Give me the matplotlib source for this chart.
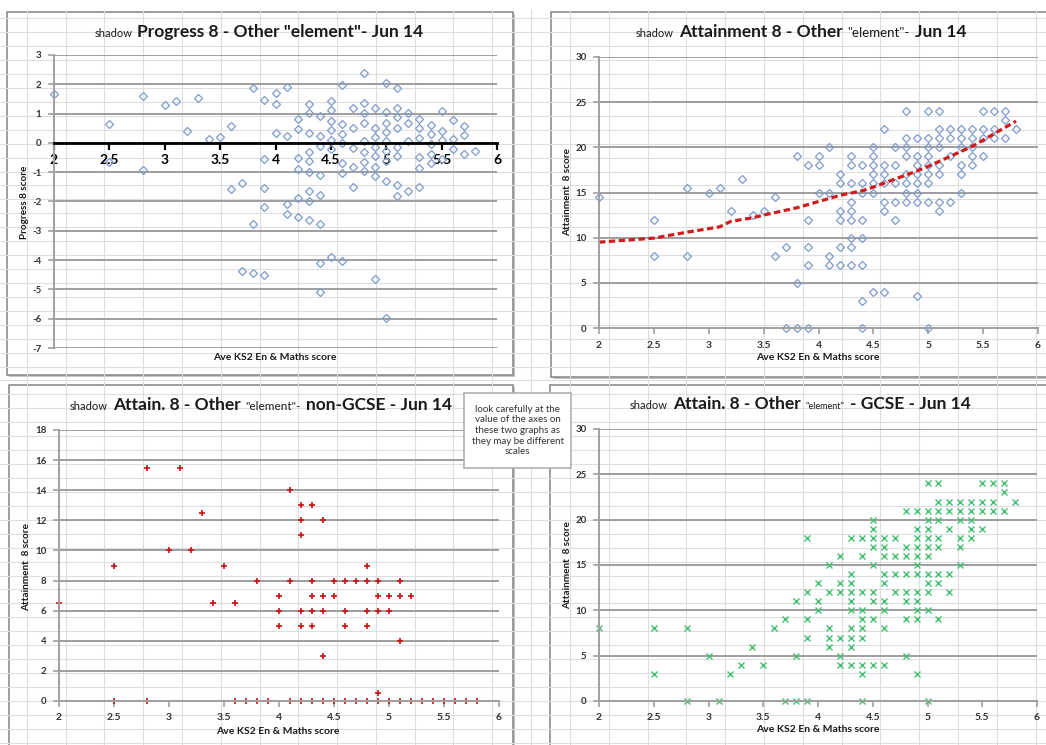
import numpy as np
import matplotlib
matplotlib.use('Agg')
import matplotlib.pyplot as plt
from matplotlib.patches import Rectangle

plt.rcParams['font.family'] = ['Lato', 'DejaVu Sans']

# ---- data: (KS2 score, [scores at that KS2 value]) ----
progress8 = [
    (2.0, [1.67]), (2.5, [0.66, -0.66]), (2.8, [1.59, -0.91]), (3.0, [1.31]),
    (3.1, [1.42]), (3.2, [0.42]), (3.3, [1.52]), (3.4, [0.14]), (3.5, [0.2]),
    (3.6, [0.59, -1.59]), (3.7, [-1.36, -4.38]), (3.8, [1.88, -2.76, -4.45]),
    (3.9, [1.45, -0.55, -1.55, -2.19, -4.52]), (4.0, [1.7, 1.34, 0.34]),
    (4.1, [1.91, 0.22, -2.08, -2.41]), (4.2, [0.8, 0.47, -0.53, -0.89, -1.89, -2.52]),
    (4.3, [1.33, 1.01, 0.34, -0.31, -0.63, -0.99, -1.63, -1.99, -2.63]),
    (4.4, [0.91, 0.23, -0.1, -1.1, -1.77, -2.76, -4.09, -5.09]),
    (4.5, [1.44, 1.12, 0.76, 0.44, 0.11, -0.21, -3.89]),
    (4.6, [1.98, 0.65, 0.3, -0.02, -0.7, -1.04, -4.02]),
    (4.7, [1.19, 0.51, -0.17, -0.81, -1.49]),
    (4.8, [2.37, 1.37, 1.01, 0.69, 0.05, -0.31, -0.64, -0.95]),
    (4.9, [1.19, 0.51, 0.19, -0.13, -0.45, -0.81, -1.13, -4.64]),
    (5.0, [2.06, 1.04, 0.69, 0.37, 0.05, -0.29, -0.63, -1.31, -5.97]),
    (5.1, [1.87, 1.19, 0.87, 0.51, -0.13, -0.46, -1.45, -1.82]),
    (5.2, [1.01, 0.69, 0.05, -1.63]), (5.3, [0.83, 0.51, 0.16, -0.49, -0.85, -1.49]),
    (5.4, [0.61, 0.29, -0.03, -0.37, -0.69]), (5.5, [1.08, 0.41, 0.09, -0.55]),
    (5.6, [0.79, 0.12, -0.2]), (5.7, [0.58, 0.26, -0.37]), (5.8, [-0.27]),
]

attain8 = [
    (2.0, [14.5]), (2.5, [12, 8]), (2.8, [15.5, 8]), (3.0, [15]), (3.1, [15.5]),
    (3.2, [13]), (3.3, [16.5]), (3.4, [12.5]), (3.5, [13]), (3.6, [14.5, 8]),
    (3.7, [9, 0]), (3.8, [19, 5, 0]), (3.9, [18, 12, 9, 7, 0]), (4.0, [19, 18, 15]),
    (4.1, [20, 15, 8, 7]), (4.2, [17, 16, 13, 12, 9, 7]),
    (4.3, [19, 18, 16, 14, 13, 12, 10, 9, 7]), (4.4, [18, 16, 15, 12, 10, 7, 3, 0]),
    (4.5, [20, 19, 18, 17, 16, 15, 4]), (4.6, [22, 18, 17, 16, 14, 13, 4]),
    (4.7, [20, 18, 16, 14, 12]), (4.8, [24, 21, 20, 19, 17, 16, 15, 14]),
    (4.9, [21, 19, 18, 17, 16, 15, 14, 3.5]), (5.0, [24, 21, 20, 19, 18, 17, 16, 14, 0]),
    (5.1, [24, 22, 21, 20, 18, 17, 14, 13]), (5.2, [22, 21, 19, 14]),
    (5.3, [22, 21, 20, 18, 17, 15]), (5.4, [22, 21, 20, 19, 18]),
    (5.5, [24, 22, 21, 19]), (5.6, [24, 22, 21]), (5.7, [24, 23, 21]), (5.8, [22]),
]

# red dashed trend line on the attainment chart
trend_x = [2.0, 2.5, 2.8, 3.0, 3.1, 3.2, 3.4, 3.5, 3.8, 4.0, 4.2, 4.4, 4.5, 4.7, 4.9, 5.0, 5.2, 5.4, 5.5, 5.6, 5.8]
trend_y = [9.5, 9.95, 10.6, 11.0, 11.2, 11.8, 12.2, 12.5, 13.3, 14.0, 14.7, 15.2, 15.6, 16.5, 17.4, 17.9, 19.0, 20.1, 20.8, 21.5, 22.9]

non_gcse = [
    (2.0, [6.5]), (2.5, [9, 0]), (2.8, [15.5, 0]), (3.0, [10]), (3.1, [15.5]),
    (3.2, [10]), (3.3, [12.5]), (3.4, [6.5]), (3.5, [9]), (3.6, [6.5, 0]),
    (3.7, [0]), (3.8, [8, 0]), (3.9, [0]), (4.0, [7, 6, 5]), (4.1, [14, 8, 0]),
    (4.2, [13, 12, 11, 6, 5, 0]), (4.3, [13, 8, 7, 6, 5, 0]), (4.4, [12, 7, 6, 3, 0]),
    (4.5, [8, 7, 0]), (4.6, [8, 6, 5, 0]), (4.7, [8, 0]), (4.8, [9, 8, 6, 5, 0]),
    (4.9, [8, 7, 6, 0.5, 0]), (5.0, [7, 6, 0]), (5.1, [8, 7, 4, 0]), (5.2, [7, 0]),
    (5.3, [0]), (5.4, [0]), (5.5, [0]), (5.6, [0]), (5.7, [0]), (5.8, [0]),
]

gcse = [
    (2.0, [8]), (2.5, [8, 3]), (2.8, [8, 0]), (3.0, [5]), (3.1, [0]), (3.2, [3]),
    (3.3, [4]), (3.4, [6]), (3.5, [4]), (3.6, [8]), (3.7, [9, 0]), (3.8, [11, 5, 0]),
    (3.9, [18, 12, 9, 7, 0]), (4.0, [13, 11, 10]), (4.1, [15, 12, 8, 7, 6]),
    (4.2, [16, 13, 12, 7, 5, 4]), (4.3, [18, 14, 13, 12, 11, 10, 8, 7, 6, 4]),
    (4.4, [18, 16, 12, 10, 9, 8, 7, 4, 3, 0]), (4.5, [20, 19, 18, 17, 15, 12, 11, 9, 4]),
    (4.6, [18, 17, 16, 14, 13, 11, 10, 8, 4]), (4.7, [18, 16, 14, 12]),
    (4.8, [21, 17, 16, 14, 12, 11, 9, 5]),
    (4.9, [21, 19, 18, 17, 16, 15, 14, 12, 11, 10, 9, 3]),
    (5.0, [24, 21, 20, 19, 18, 17, 16, 14, 13, 12, 10, 0]),
    (5.1, [24, 22, 21, 20, 18, 17, 14, 13, 9]), (5.2, [22, 21, 19, 14, 12]),
    (5.3, [22, 21, 20, 18, 17, 15]), (5.4, [22, 21, 20, 19, 18]),
    (5.5, [24, 22, 21, 19]), (5.6, [24, 22, 21]), (5.7, [24, 23, 21]), (5.8, [22]),
]

x_ticks = [2, 2.5, 3, 3.5, 4, 4.5, 5, 5.5, 6]
x_labels = ['2', '2.5', '3', '3.5', '4', '4.5', '5', '5.5', '6']

W, H = 1046, 745
GRID = '#9e9e9e'
AXIS = '#a0a0a0'


def expand(cols):
    xs, ys = [], []
    for x, vals in cols:
        for v in vals:
            xs.append(x)
            ys.append(v)
    return np.array(xs), np.array(ys)


def rect(x0, y0, x1, y1):
    # pixel box (top-left origin) -> figure fraction
    return [x0 / W, 1 - y1 / H, (x1 - x0) / W, (y1 - y0) / H]


def style_axes(ax, yticks, ylabels):
    ax.set_facecolor('none')
    ax.set_xlim(2, 6)
    ax.set_ylim(yticks[0], yticks[-1])
    ax.set_xticks(x_ticks, labels=x_labels, fontweight='bold', fontsize=7.5, color='#333333')
    ax.set_yticks(yticks, labels=ylabels, fontsize=7, color='#333333', fontweight='bold')
    ax.grid(axis='y', color=GRID, lw=1.4)
    ax.set_axisbelow(True)
    for s in ['top', 'right']:
        ax.spines[s].set_visible(False)
    for s in ['left', 'bottom']:
        ax.spines[s].set_color(AXIS)
        ax.spines[s].set_linewidth(1.4)
    ax.tick_params(axis='both', direction='out', length=4, width=1.2, color=AXIS)
    ax.tick_params(axis='y', pad=5)
    ax.tick_params(axis='x', pad=5)


fig = plt.figure(figsize=(W / 100, H / 100), dpi=100)

# spreadsheet background with cell grid and chart frames
bg = fig.add_axes([0, 0, 1, 1], zorder=0)
bg.set_xlim(0, W)
bg.set_ylim(H, 0)
bg.axis('off')
for gx in np.arange(26.7, W, 38.8):
    bg.plot([gx, gx], [10, H], color='#dedede', lw=0.8)
for gy in np.arange(18.3, H, 13.93):
    bg.plot([0, W], [gy, gy], color='#dedede', lw=0.8)
for x0, y0, x1, y1 in [(7, 12, 513, 375), (551, 12, 1052, 377), (9, 385, 513, 752), (550, 385, 1052, 752)]:
    bg.add_patch(Rectangle((x0 + 1.5, y0 + 1.5), x1 - x0, y1 - y0, fc='#c4c4c4', ec='none'))
    bg.add_patch(Rectangle((x0, y0), x1 - x0, y1 - y0, fc='white', ec='#8c8c8c', lw=1.2))

ov = fig.add_axes([0, 0, 1, 1], zorder=3)
ov.set_xlim(0, W)
ov.set_ylim(H, 0)
ov.axis('off')
ov.patch.set_alpha(0)


def title(cx, base, pieces, gap=5):
    rend = fig.canvas.get_renderer()
    texts, widths = [], []
    for s, fs, w in pieces:
        t = ov.text(0, base, s, fontsize=fs, fontweight=w, va='baseline', ha='left', color='#1a1a1a')
        texts.append(t)
        widths.append(t.get_window_extent(rend).width)
    x = cx - (sum(widths) + gap * (len(pieces) - 1)) / 2
    for t, wd in zip(texts, widths):
        t.set_x(x)
        x += wd + gap


def xlabel(cx, cy):
    ov.text(cx, cy, 'Ave KS2 En & Maths score', fontsize=7.5, fontweight='bold',
            ha='center', va='center', color='#1a1a1a')


def ylabel(cx, cy, s):
    ov.text(cx, cy, s, fontsize=7.2, fontweight='bold', rotation=90,
            ha='center', va='center', color='#1a1a1a')


diamond = dict(ls='none', marker='D', ms=3.7, mfc='none', mec='#7d9bcd', mew=0.9, clip_on=False)

# ---- Progress 8 ----
ax1 = fig.add_axes(rect(54, 55, 497, 348), zorder=1)
p8_ticks = list(range(-7, 4))
style_axes(ax1, p8_ticks, [str(v) for v in p8_ticks])
ax1.spines['bottom'].set_position(('data', 0))
ax1.spines['bottom'].set_color('black')
ax1.spines['bottom'].set_linewidth(2)
ax1.tick_params(axis='x', color='black', width=1.6, length=5, pad=3)
ax1.set_xticks(x_ticks, labels=x_labels, fontweight='bold', fontsize=10, color='black')
x, y = expand(progress8)
ax1.plot(x, y, **diamond)
title(259, 37, [('shadow', 8, 'normal'), ('Progress 8 - Other "element"- Jun 14', 12.5, 'bold')])
xlabel(275, 357)
ylabel(25, 202, 'Progress 8 score')

# ---- Attainment 8 ----
ax2 = fig.add_axes(rect(599, 57, 1038, 328), zorder=1)
a_ticks = list(range(0, 31, 5))
style_axes(ax2, a_ticks, [str(v) for v in a_ticks])
x, y = expand(attain8)
ax2.plot(x, y, **diamond)
ax2.plot(trend_x, trend_y, color='#d01c1c', lw=2.3, ls=(0, (2, 1.1)))
title(801, 37, [('shadow', 8, 'normal'), ('Attainment 8 - Other', 12.5, 'bold'),
                ('"element"-', 9.5, 'normal'), ('Jun 14', 12.5, 'bold')])
xlabel(818, 358)
ylabel(568, 192, 'Attainment  8 score')

# ---- Attain. 8 non-GCSE ----
ax3 = fig.add_axes(rect(59, 430, 499, 701), zorder=1)
n_ticks = list(range(0, 19, 2))
style_axes(ax3, n_ticks, [str(v) for v in n_ticks])
x, y = expand(non_gcse)
ax3.plot(x, y, ls='none', marker='+', ms=4.6, mec='#cc1010', mew=1.2, clip_on=False)
title(261, 410, [('shadow', 8, 'normal'), ('Attain. 8 - Other', 12.5, 'bold'),
                 ('"element"-', 8.5, 'normal'), ('non-GCSE - Jun 14', 12.5, 'bold')])
xlabel(278, 731)
ylabel(27, 567, 'Attainment  8 score')

# ---- Attain. 8 GCSE ----
ax4 = fig.add_axes(rect(599, 429, 1037, 701), zorder=1)
style_axes(ax4, a_ticks, [str(v) for v in a_ticks])
x, y = expand(gcse)
ax4.plot(x, y, ls='none', marker='x', ms=4.2, mec='#45bf72', mew=1.0, clip_on=False)
title(800, 409, [('shadow', 8, 'normal'), ('Attain. 8 - Other', 12.5, 'bold'),
                 ('"element"', 6.5, 'normal'), ('- GCSE - Jun 14', 12.5, 'bold')])
xlabel(818, 730)
ylabel(568, 565, 'Attainment  8 score')

# note box between the lower charts
ov.add_patch(Rectangle((464, 393), 107, 75, fc='white', ec='#b0b0b0', lw=1.2))
ov.text(517.5, 430.5, 'look carefully at the\nvalue of the axes on\nthese two graphs as\nthey may be different\nscales',
        fontsize=7, ha='center', va='center', color='#333333', linespacing=1.25)

fig.savefig('out.png', dpi=100)
